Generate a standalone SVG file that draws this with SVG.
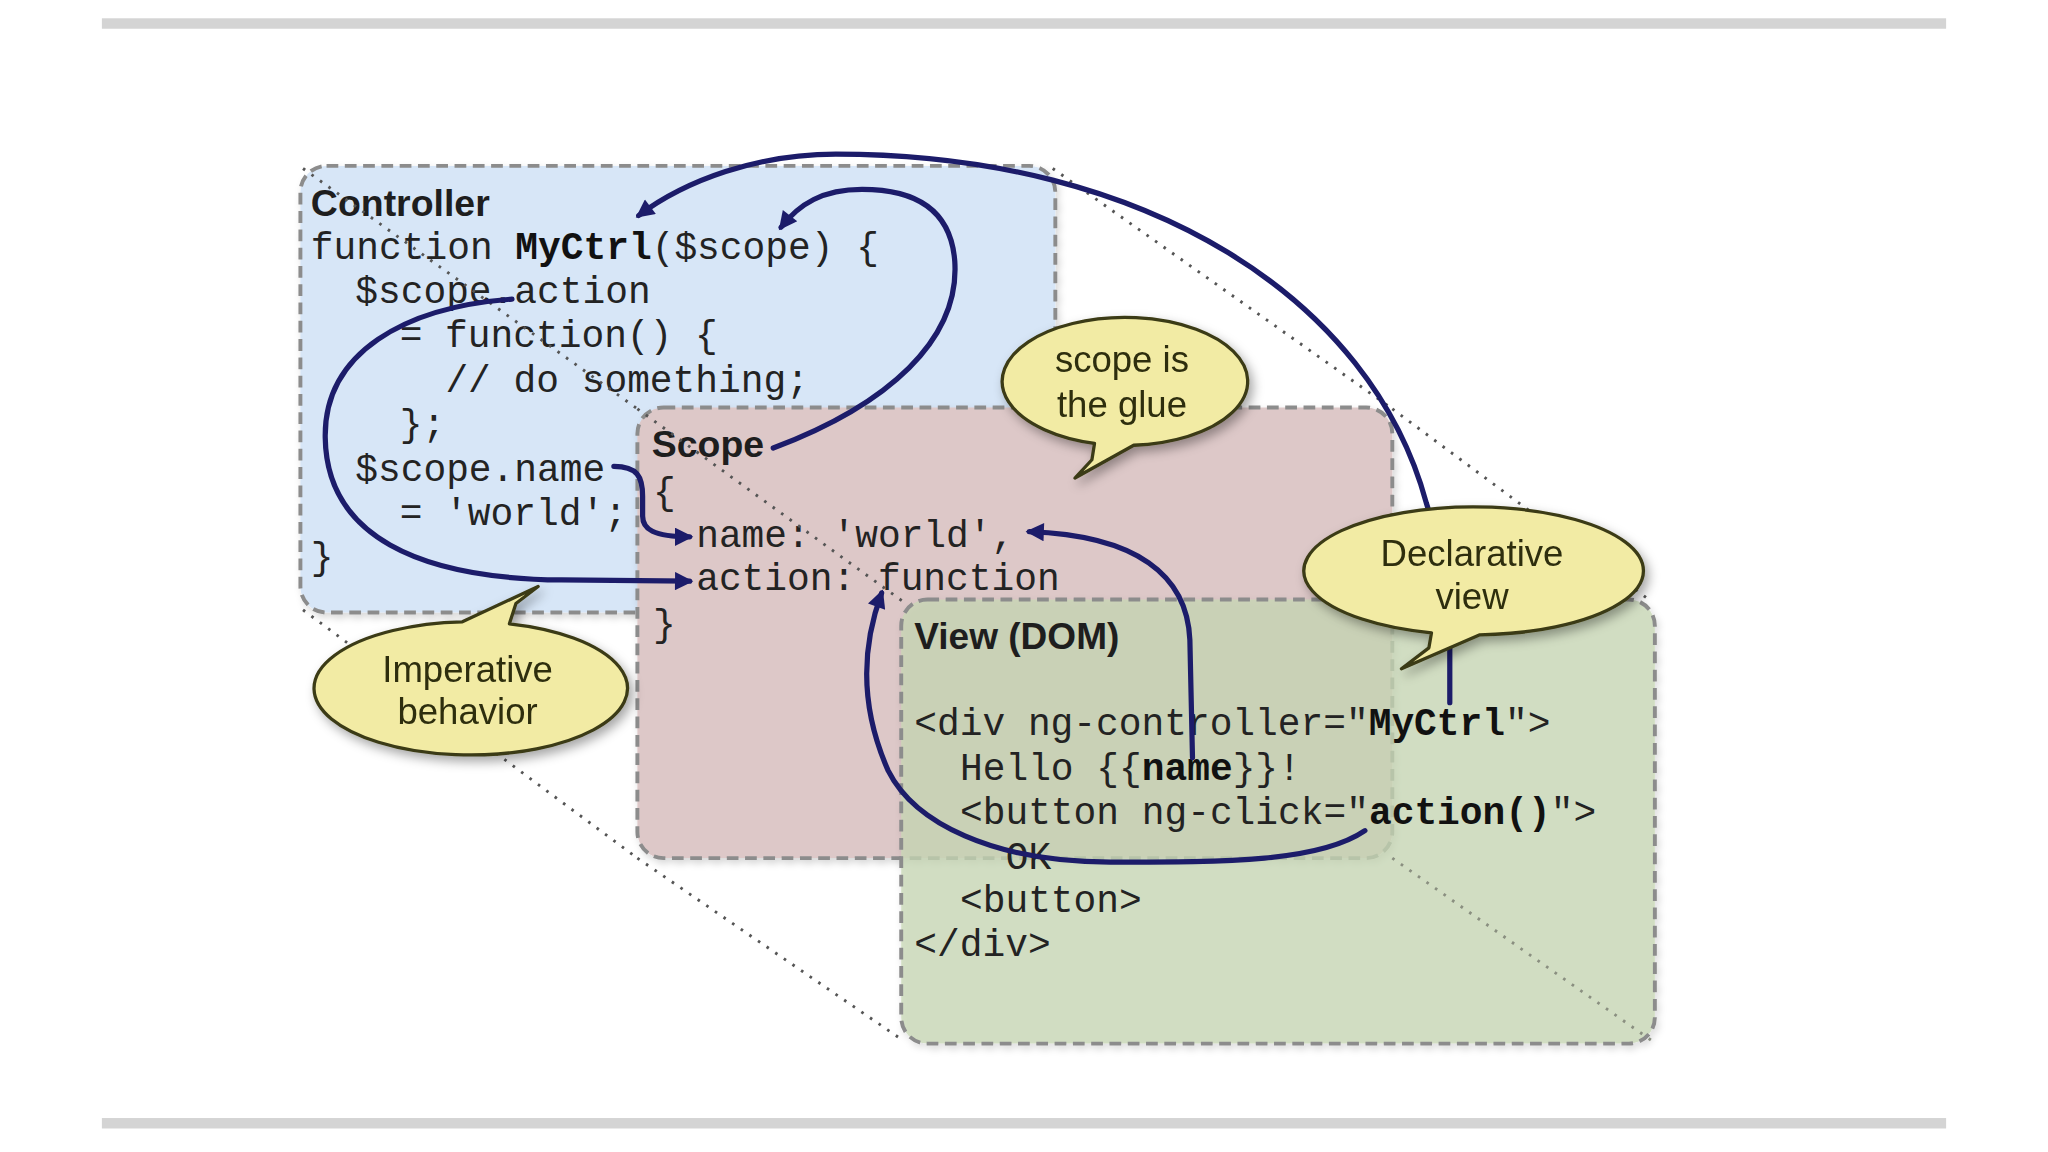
<svg xmlns="http://www.w3.org/2000/svg" width="2048" height="1152" viewBox="0 0 2048 1152">
<defs>
<style>
.rule{fill:#d4d4d4}
.box{stroke:#8c8c8c;stroke-width:3;stroke-dasharray:9 5}
.title{font-family:"Liberation Sans",Arial,sans-serif;font-weight:bold;font-size:28px;fill:#1e1e1e}
.code{font-family:"Liberation Mono","Courier New",monospace;font-size:29px;fill:#232323}
.b{font-weight:bold;fill:#111}
.dot{fill:none;stroke:#555;stroke-width:2.2;stroke-dasharray:2 6}
.dotl{fill:none;stroke:#8a8f80;stroke-width:2.2;stroke-dasharray:2 6}
.conn{fill:none;stroke:#1c1c6a;stroke-width:4;stroke-linecap:round}
.bub{fill:#f2eba4;stroke:#3b3a14;stroke-width:2.5;stroke-linejoin:round}
.btxt{font-family:"Liberation Sans",Arial,sans-serif;font-size:28px;fill:#2e2e10;text-anchor:middle}
</style>
<marker id="ah" viewBox="0 0 10 10" refX="8" refY="5" markerWidth="17" markerHeight="14" markerUnits="userSpaceOnUse" orient="auto">
<path d="M0,0 L10,5 L0,10 z" fill="#1c1c6a"/>
</marker>
<filter id="sh" x="-20%" y="-20%" width="140%" height="150%">
<feDropShadow dx="3" dy="4" stdDeviation="4" flood-color="#000" flood-opacity="0.35"/>
</filter>
<filter id="bsh" x="-5%" y="-5%" width="110%" height="115%">
<feDropShadow dx="2" dy="3" stdDeviation="3" flood-color="#000" flood-opacity="0.15"/>
</filter>
</defs>
<rect width="2048" height="1152" fill="#ffffff"/>
<g transform="scale(1.30612)">
<rect class="rule" x="78" y="14" width="1412" height="8"/>
<rect class="rule" x="78" y="856" width="1412" height="8"/>

<g id="controller">
<rect class="box" x="230" y="127" width="578" height="342" rx="20" fill="#d7e6f7" filter="url(#bsh)"/>
<text class="title" x="238" y="165" textLength="137" lengthAdjust="spacingAndGlyphs">Controller</text>
<text class="code" x="238" y="198">function <tspan class="b">MyCtrl</tspan>($scope) {</text>
<text class="code" x="272" y="232">$scope.action</text>
<text class="code" x="306" y="266">= function() {</text>
<text class="code" x="341" y="300">// do something;</text>
<text class="code" x="306" y="334">};</text>
<text class="code" x="272" y="368">$scope.name</text>
<text class="code" x="306" y="402">= 'world';</text>
<text class="code" x="238" y="436">}</text>
</g>

<g id="guides-back">
<line class="dot" x1="232" y1="129" x2="488" y2="313"/>
<line class="dot" x1="806" y1="129" x2="1066" y2="313"/>
<line class="dot" x1="232" y1="467" x2="488" y2="657"/>
</g>

<g id="scope">
<rect class="box" x="488" y="312" width="578" height="345" rx="20" fill="#ddc8c8" filter="url(#bsh)"/>
<text class="title" x="499" y="350" textLength="86" lengthAdjust="spacingAndGlyphs">Scope</text>
<text class="code" x="500" y="386">{</text>
<text class="code" x="533" y="419">name: 'world',</text>
<text class="code" x="533" y="452">action: function</text>
<text class="code" x="500" y="487">}</text>
</g>

<g id="guides-mid">
<line class="dot" x1="488" y1="313" x2="692" y2="461"/>
<line class="dot" x1="1066" y1="313" x2="1265" y2="461"/>
<line class="dot" x1="488" y1="657" x2="692" y2="797"/>
</g>

<g id="view">
<rect class="box" x="690" y="459" width="577" height="340" rx="20" fill="rgb(199,215,180)" fill-opacity="0.75" filter="url(#bsh)"/>
<text class="title" x="700" y="497" textLength="157" lengthAdjust="spacingAndGlyphs">View (DOM)</text>
<text class="code" x="700" y="563">&lt;div ng-controller="<tspan class="b">MyCtrl</tspan>"&gt;</text>
<text class="code" x="735" y="597">Hello {{<tspan class="b">name</tspan>}}!</text>
<text class="code" x="735" y="631">&lt;button ng-click="<tspan class="b">action()</tspan>"&gt;</text>
<text class="code" x="770" y="665">OK</text>
<text class="code" x="735" y="698">&lt;button&gt;</text>
<text class="code" x="700" y="732">&lt;/div&gt;</text>
</g>

<g id="guides-front">
<line class="dotl" x1="1066" y1="657" x2="1265" y2="797"/>
</g>

<g id="connectors">
<path class="conn" marker-end="url(#ah)" d="M1110,538 L1110,480 C1108,440 1100,410 1092,385 C1050,230 880,118 640,118 C580,118 525,138 489,165"/>
<path class="conn" marker-end="url(#ah)" d="M592,343 C680,310 735,260 731,200 C728,160 700,145 660,145 C630,145 612,156 598,174"/>
<path class="conn" marker-end="url(#ah)" d="M392,229 C310,235 248,270 249,335 C250,410 320,443 430,444 L528,445"/>
<path class="conn" marker-end="url(#ah)" d="M470,357 C488,357 492,365 492,380 L492,395 C492,405 500,411 528,411"/>
<path class="conn" marker-end="url(#ah)" d="M913,580 L911,490 C909,440 870,410 788,407"/>
<path class="conn" marker-end="url(#ah)" d="M1045,636 C1010,660 940,660 850,660 C760,660 700,630 680,590 C660,545 658,500 675,454"/>
</g>

<g id="bubble-glue" filter="url(#sh)">
<path class="bub" d="M868,340.9 A94,49 0 1 0 838,339.5 L836,352 L823,366 Z"/>
<text class="btxt" x="859" y="285">scope is</text>
<text class="btxt" x="859" y="319">the glue</text>
</g>
<g id="bubble-declarative" filter="url(#sh)">
<path class="bub" d="M1133,486 A130,49 0 1 0 1096,484.5 L1094,496 L1073,512 Z"/>
<text class="btxt" x="1127" y="433">Declarative</text>
<text class="btxt" x="1127" y="466">view</text>
</g>
<g id="bubble-imperative" filter="url(#sh)">
<path class="bub" d="M354,476.1 A120,51 0 1 0 390,477.6 L395,462 L412,449 Z"/>
<text class="btxt" x="358" y="522">Imperative</text>
<text class="btxt" x="358" y="554">behavior</text>
</g>
</g>
</svg>
